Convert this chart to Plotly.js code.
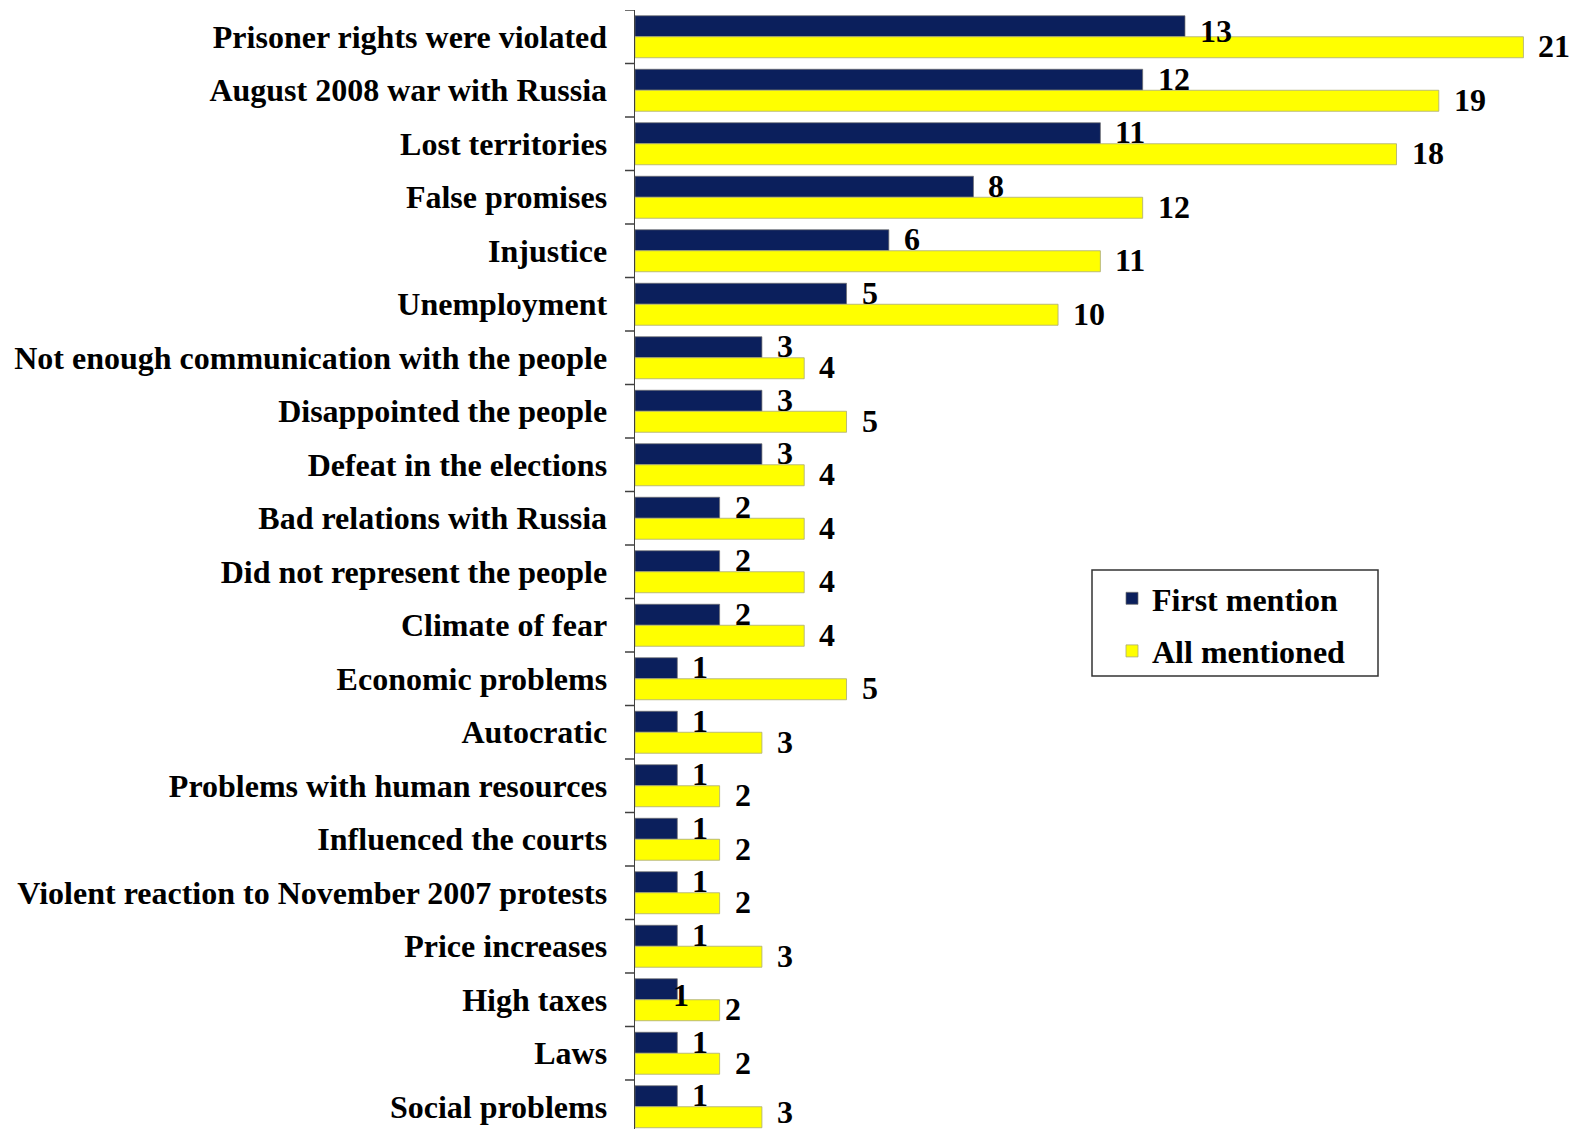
<!DOCTYPE html>
<html>
<head>
<meta charset="utf-8">
<script src="https://cdn.plot.ly/plotly-3.0.1.min.js"></script>
<style>html,body{margin:0;padding:0;background:#fff;}#chart{width:1578px;height:1129px;}</style>
</head>
<body>
<div id="chart"></div>
<script>
const categories = [
  "Prisoner rights were violated",
  "August 2008 war with Russia",
  "Lost territories",
  "False promises",
  "Injustice",
  "Unemployment",
  "Not enough communication with the people",
  "Disappointed the people",
  "Defeat in the elections",
  "Bad relations with Russia",
  "Did not represent the people",
  "Climate of fear",
  "Economic problems",
  "Autocratic",
  "Problems with human resources",
  "Influenced the courts",
  "Violent reaction to November 2007 protests",
  "Price increases",
  "High taxes",
  "Laws",
  "Social problems"
];
const firstMention = [13, 12, 11, 8, 6, 5, 3, 3, 3, 2, 2, 2, 1, 1, 1, 1, 1, 1, 1, 1, 1];
const allMentioned = [21, 19, 18, 12, 11, 10, 4, 5, 4, 4, 4, 4, 5, 3, 2, 2, 2, 3, 2, 2, 3];
const seriesNames = ["First mention", "All mentioned"];

// label placement quirks seen in the reference (style only)
const labelNudge = {
  "High taxes": {first: {dx: -19, dy: 6}, all: {dx: -10, dy: -1}},
  "Prisoner rights were violated": {first: {dx: 0, dy: 5}, all: {dx: 0, dy: -1}},
  "Social problems": {first: {dx: 0, dy: -1}, all: {dx: 0, dy: -5}}
};
const defaultNudge = {first: {dx: 0, dy: -1}, all: {dx: 0, dy: -1}};

const serif = "'Liberation Serif', 'Times New Roman', serif";
const navy = "#0B1F5C";
const yellow = "#FFFF00";

const idx = categories.map((c, i) => i);

const traces = [
  {
    type: "bar", orientation: "h", name: seriesNames[0], legendgroup: "a",
    y: idx, x: firstMention,
    marker: {color: navy, line: {color: "rgba(110,110,110,0.7)", width: 1}},
    hoverinfo: "skip"
  },
  {
    type: "bar", orientation: "h", name: seriesNames[1], legendgroup: "b",
    y: idx, x: allMentioned,
    marker: {color: yellow, line: {color: "rgba(170,170,120,0.8)", width: 1}},
    hoverinfo: "skip"
  }
];

const off = 0.196;
const numFont = {family: serif, size: 32, color: "#000", weight: "bold"};
const annotations = [];
categories.forEach((c, i) => {
  const n = labelNudge[c] || defaultNudge;
  annotations.push({
    x: firstMention[i], y: i - off, xref: "x", yref: "y",
    text: String(firstMention[i]), showarrow: false,
    xanchor: "left", yanchor: "middle", xshift: 13 + n.first.dx, yshift: -n.first.dy,
    font: numFont
  });
  annotations.push({
    x: allMentioned[i], y: i + off, xref: "x", yref: "y",
    text: String(allMentioned[i]), showarrow: false,
    xanchor: "left", yanchor: "middle", xshift: 13 + n.all.dx, yshift: -n.all.dy,
    font: numFont
  });
});

// plot area geometry helpers (paper coords)
const plotTop = 10, plotH = 1119, plotL = 635, plotW = 943;
const px2paperX = px => (px - plotL) / plotW;
const px2paperY = py => 1 - (py - plotTop) / plotH;

const shapes = idx.concat([idx.length]).map(i => ({
  type: "line", xref: "paper", yref: "y",
  x0: -0.0106, x1: 0, y0: i - 0.5, y1: i - 0.5,
  line: {color: "#404040", width: 1.5}
}));
// legend frame
shapes.push({
  type: "rect", xref: "paper", yref: "paper",
  x0: px2paperX(1092), x1: px2paperX(1378), y0: px2paperY(676), y1: px2paperY(570),
  line: {color: "#333", width: 1.5}, fillcolor: "rgba(0,0,0,0)", layer: "below"
});

const layout = {
  width: 1578, height: 1129,
  margin: {l: plotL, r: 0, t: plotTop, b: 0, pad: 0},
  paper_bgcolor: "#fff", plot_bgcolor: "#fff",
  barmode: "group", bargap: 0.215, bargroupgap: 0,
  showlegend: true,
  legend: {
    x: px2paperX(1112), y: px2paperY(571), xanchor: "left", yanchor: "top",
    borderwidth: 0, bgcolor: "rgba(0,0,0,0)",
    font: {family: serif, size: 32, color: "#000", weight: "bold"},
    traceorder: "grouped", tracegroupgap: 8,
    itemwidth: 30
  },
  xaxis: {
    range: [0, 22.29], showgrid: false, zeroline: false,
    showticklabels: false, ticks: "", showline: false, fixedrange: true
  },
  yaxis: {
    type: "linear",
    range: [20.416, -0.5],
    tickmode: "array", tickvals: idx, ticktext: categories,
    showgrid: false, zeroline: false,
    showline: true, linecolor: "#404040", linewidth: 1.5,
    ticks: "", ticklabelstandoff: 20,
    tickfont: {family: serif, size: 32, color: "#000", weight: "bold"},
    fixedrange: true
  },
  annotations: annotations,
  shapes: shapes
};

Plotly.newPlot("chart", traces, layout, {displayModeBar: false, staticPlot: true});
</script>
</body>
</html>
